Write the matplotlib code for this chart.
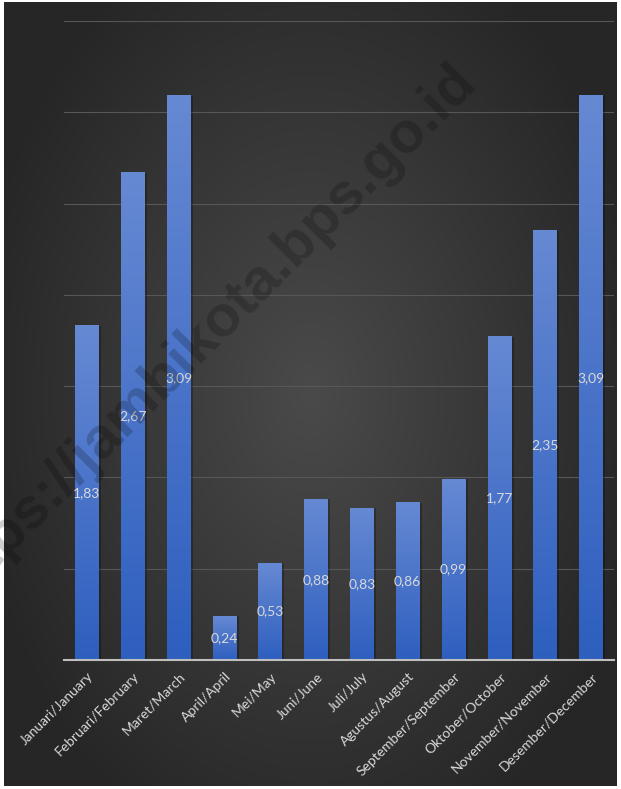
import numpy as np
import matplotlib
matplotlib.use("Agg")
import matplotlib.pyplot as plt
from matplotlib.colors import LinearSegmentedColormap

months = ["Januari/January", "Februari/February", "Maret/March", "April/April",
          "Mei/May", "Juni/June", "Juli/July", "Agustus/August",
          "September/September", "Oktober/October", "November/November",
          "Desember/December"]
values = [1.83, 2.67, 3.09, 0.24, 0.53, 0.88, 0.83, 0.86, 0.99, 1.77, 2.35, 3.09]

plt.rcParams['font.family'] = ['Lato', 'DejaVu Sans']

W, H = 621, 789
fig = plt.figure(figsize=(W / 100, H / 100), dpi=100)
fig.patch.set_facecolor('white')

# radial dark background
bg = fig.add_axes([4 / W, 3 / H, 613 / W, 784 / H])
yy, xx = np.mgrid[0:1:400j, 0:1:320j]
r = np.sqrt(((xx - 0.5) / 0.75) ** 2 + ((yy - 0.5) / 0.85) ** 2)
r = np.clip(r / 0.75, 0, 1)
bg_cmap = LinearSegmentedColormap.from_list('bg', ['#4a4a4a', '#262626'])
bg.imshow(r, cmap=bg_cmap, aspect='auto', extent=[0, 1, 0, 1], interpolation='bilinear')
bg.set_axis_off()

ax = fig.add_axes([64 / W, (H - 660) / H, 550 / W, (660 - 21) / H])
ax.set_facecolor('none')
x = np.arange(len(values))

bar_cmap = LinearSegmentedColormap.from_list('bar', ['#2e5fbf', '#6689d3'])
grad = np.linspace(0, 1, 256).reshape(-1, 1)
w = 0.52
for xi, v in zip(x, values):
    # shadow
    ax.bar(xi + 0.05, v, width=w, color='black', alpha=0.25, zorder=2)
    ax.imshow(grad, cmap=bar_cmap, aspect='auto', origin='lower',
              extent=[xi - w / 2, xi + w / 2, 0, v], zorder=3, vmin=0, vmax=1)
    ax.text(xi, v / 2, f"{v:.2f}".replace('.', ','), ha='center', va='center',
            color='#d9d9d9', fontsize=10, zorder=5)
ax.set_xlim(-0.5, len(values) - 0.5)
ax.set_ylim(0, 3.5)

ax.set_yticks(np.arange(0, 3.51, 0.5))
ax.yaxis.grid(True, color='#575757', linewidth=0.8)
ax.set_axisbelow(True)
ax.tick_params(axis='y', left=False, labelleft=False)
ax.tick_params(axis='x', bottom=False, colors='#d9d9d9', pad=4)
ax.set_xticks(x)
ax.set_xticklabels(months, rotation=45, ha='right', rotation_mode='anchor',
                   fontsize=10, color='#d9d9d9')
for s in ['top', 'right', 'left']:
    ax.spines[s].set_visible(False)
ax.spines['bottom'].set_color('#bfbfbf')
ax.spines['bottom'].set_linewidth(1.5)
ax.spines['bottom'].set_zorder(6)

# watermark
fig.text(0.33, 0.575, "https://jambikota.bps.go.id", rotation=45, ha='center',
         va='center', fontsize=42, fontweight='bold', color='black', alpha=0.2,
         family='Liberation Sans')

fig.savefig('out.png', dpi=100, facecolor=fig.get_facecolor())
